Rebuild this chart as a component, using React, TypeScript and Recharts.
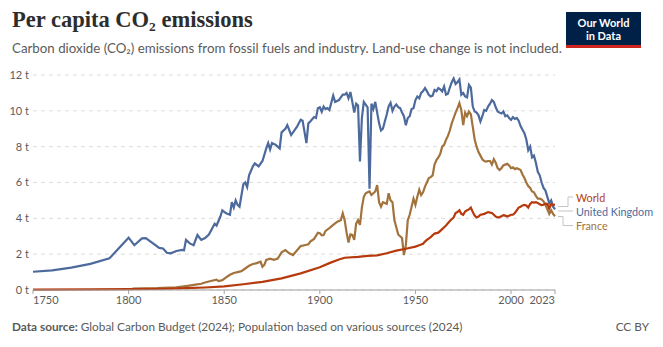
import { LineChart, Line, XAxis, YAxis, CartesianGrid } from "recharts";

const YEAR_TICKS = [1750, 1800, 1850, 1900, 1950, 2000, 2023];
const VALUE_TICKS = [0, 2, 4, 6, 8, 10, 12];

// [year, tonnes per person]
const UK: [number, number][] = [
  [1750, 1.02], [1760, 1.1], [1770, 1.25], [1780, 1.46], [1790, 1.77], [1800, 2.92], [1803, 2.5],
  [1807, 2.88], [1809, 2.9], [1816, 2.35], [1818, 2.32], [1820, 2.08], [1822, 2.05], [1825, 2.18],
  [1828, 2.24], [1829, 2.22], [1830, 2.8], [1832, 2.6], [1834, 2.5], [1836, 3.07], [1838, 2.8],
  [1840, 2.9], [1842, 3.1], [1845, 3.7], [1846, 3.6], [1848, 4.1], [1849, 4.45], [1851, 4.28],
  [1853, 4.2], [1854, 4.9], [1855, 4.6], [1856, 5.0], [1857, 4.75], [1858, 4.65], [1860, 5.9],
  [1861, 6.0], [1862, 5.75], [1863, 6.4], [1865, 6.9], [1866, 7.07], [1868, 6.9], [1870, 7.2],
  [1872, 7.9], [1873, 8.2], [1874, 7.85], [1875, 8.2], [1877, 8.1], [1879, 7.9], [1880, 8.8],
  [1882, 9.0], [1883, 9.2], [1885, 8.65], [1888, 9.1], [1890, 9.5], [1891, 9.45], [1893, 8.2],
  [1894, 9.3], [1895, 9.4], [1897, 9.65], [1898, 9.6], [1899, 10.15], [1900, 10.2], [1901, 9.95],
  [1902, 10.24], [1903, 10.1], [1904, 10.15], [1905, 10.05], [1907, 10.85], [1908, 10.5],
  [1910, 10.6], [1912, 10.9], [1913, 10.9], [1914, 11.0], [1915, 10.7], [1916, 11.05], [1917, 10.5],
  [1918, 9.9], [1919, 10.4], [1920, 10.3], [1921, 7.17], [1922, 9.6], [1923, 10.5], [1924, 10.35],
  [1925, 10.2], [1926, 5.65], [1927, 10.4], [1928, 10.1], [1929, 10.5], [1930, 9.9], [1931, 9.3],
  [1932, 8.9], [1933, 9.0], [1934, 9.4], [1935, 9.8], [1936, 10.25], [1937, 10.45], [1938, 10.0],
  [1939, 10.24], [1940, 10.35], [1941, 10.2], [1942, 10.15], [1943, 9.9], [1944, 9.7], [1945, 9.2],
  [1946, 9.6], [1947, 9.7], [1948, 10.1], [1949, 10.15], [1950, 10.6], [1951, 10.8], [1952, 10.7],
  [1953, 11.0], [1954, 11.1], [1955, 11.27], [1956, 11.1], [1957, 10.9], [1958, 10.8], [1959, 10.85],
  [1960, 11.17], [1961, 11.1], [1962, 11.27], [1963, 11.2], [1964, 11.08], [1965, 11.36], [1966, 10.9],
  [1967, 10.95], [1968, 11.3], [1969, 11.6], [1970, 11.8], [1971, 11.5], [1972, 11.6], [1973, 11.75],
  [1974, 10.9], [1975, 11.0], [1976, 10.8], [1977, 10.75], [1978, 11.45], [1979, 11.3], [1980, 10.24],
  [1981, 9.96], [1982, 9.9], [1983, 9.75], [1984, 9.4], [1985, 9.7], [1986, 10.05], [1987, 10.0],
  [1988, 10.24], [1989, 10.4], [1990, 10.6], [1991, 10.5], [1992, 10.2], [1993, 9.96], [1994, 9.9],
  [1995, 9.85], [1996, 9.96], [1997, 9.7], [1998, 9.75], [1999, 9.6], [2000, 9.5], [2001, 9.65],
  [2002, 9.55], [2003, 9.6], [2004, 9.45], [2005, 9.15], [2006, 8.95], [2007, 8.75], [2008, 8.4],
  [2009, 7.8], [2010, 8.0], [2011, 7.4], [2012, 7.5], [2013, 7.1], [2014, 6.6], [2015, 6.4],
  [2016, 6.0], [2017, 5.7], [2018, 5.55], [2019, 5.2], [2020, 4.84], [2021, 5.0], [2022, 4.65],
  [2023, 4.5],
];

const FRANCE: [number, number][] = [
  [1802, 0.08], [1815, 0.1], [1825, 0.15], [1830, 0.22], [1835, 0.3], [1838, 0.35], [1840, 0.42],
  [1843, 0.5], [1846, 0.58], [1847, 0.5], [1849, 0.55], [1851, 0.7], [1853, 0.85], [1855, 0.95],
  [1857, 1.0], [1859, 1.05], [1861, 1.2], [1863, 1.35], [1865, 1.45], [1867, 1.5], [1869, 1.58],
  [1870, 1.3], [1871, 1.4], [1872, 1.68], [1874, 1.75], [1876, 1.68], [1878, 1.75], [1880, 2.1],
  [1882, 2.23], [1884, 2.05], [1886, 1.95], [1888, 2.2], [1890, 2.45], [1892, 2.5], [1894, 2.55],
  [1895, 2.7], [1897, 2.85], [1899, 3.2], [1900, 3.17], [1901, 3.05], [1902, 3.07], [1903, 3.3],
  [1905, 3.45], [1907, 3.63], [1909, 3.8], [1910, 3.85], [1911, 3.9], [1912, 4.28], [1913, 3.9],
  [1914, 3.2], [1915, 2.65], [1916, 3.1], [1917, 3.07], [1918, 2.8], [1919, 3.7], [1920, 3.9],
  [1921, 3.63], [1922, 4.6], [1923, 5.2], [1924, 5.4], [1925, 5.45], [1926, 5.5], [1927, 5.3],
  [1928, 5.4], [1929, 5.5], [1930, 5.85], [1931, 4.9], [1932, 4.65], [1933, 4.9], [1934, 4.85],
  [1935, 4.8], [1936, 5.4], [1937, 5.0], [1938, 4.9], [1939, 3.9], [1940, 3.5], [1941, 3.1],
  [1942, 3.0], [1943, 2.9], [1944, 1.95], [1945, 2.5], [1946, 3.9], [1947, 4.2], [1948, 4.65],
  [1949, 5.1], [1950, 4.75], [1951, 5.2], [1952, 5.6], [1953, 5.3], [1954, 5.45], [1955, 5.77],
  [1956, 6.0], [1957, 6.25], [1958, 6.3], [1959, 6.4], [1960, 7.0], [1961, 7.25], [1962, 7.4],
  [1963, 7.6], [1964, 8.0], [1965, 8.1], [1966, 8.38], [1967, 8.6], [1968, 8.9], [1969, 9.3],
  [1970, 9.6], [1971, 9.9], [1972, 10.15], [1973, 10.43], [1974, 10.05], [1975, 9.2], [1976, 9.9],
  [1977, 9.7], [1978, 9.96], [1979, 9.8], [1980, 9.1], [1981, 8.4], [1982, 8.0], [1983, 7.7],
  [1984, 7.5], [1985, 7.3], [1986, 7.2], [1987, 7.17], [1988, 7.2], [1989, 7.2], [1990, 7.0],
  [1991, 7.3], [1992, 7.1], [1993, 6.8], [1994, 6.7], [1995, 6.8], [1996, 6.95], [1997, 7.0],
  [1998, 7.05], [1999, 6.95], [2000, 6.8], [2001, 6.85], [2002, 6.75], [2003, 6.8], [2004, 6.75],
  [2005, 6.7], [2006, 6.45], [2007, 6.25], [2008, 6.0], [2009, 5.8], [2010, 5.7], [2011, 5.5],
  [2012, 5.45], [2013, 5.25], [2014, 5.1], [2015, 5.1], [2016, 5.05], [2017, 4.95], [2018, 4.75],
  [2019, 4.5], [2020, 4.25], [2021, 4.45], [2022, 4.25], [2023, 4.12],
];

const WORLD: [number, number][] = [
  [1750, 0.02], [1780, 0.03], [1800, 0.05], [1820, 0.07], [1830, 0.1], [1840, 0.14], [1850, 0.2],
  [1860, 0.32], [1870, 0.45], [1880, 0.65], [1890, 0.93], [1900, 1.27], [1905, 1.5], [1910, 1.7],
  [1913, 1.8], [1920, 1.85], [1925, 1.9], [1930, 1.93], [1935, 2.05], [1940, 2.2], [1945, 2.3],
  [1950, 2.42], [1952, 2.5], [1954, 2.58], [1955, 2.7], [1956, 2.8], [1958, 2.95], [1960, 3.15],
  [1962, 3.2], [1964, 3.4], [1966, 3.6], [1968, 3.85], [1970, 4.05], [1971, 4.3], [1972, 4.35],
  [1973, 4.45], [1974, 4.25], [1975, 4.2], [1976, 4.38], [1977, 4.45], [1978, 4.5], [1979, 4.6],
  [1980, 4.35], [1981, 4.15], [1982, 4.05], [1983, 4.1], [1984, 4.2], [1985, 4.22], [1986, 4.25],
  [1987, 4.3], [1988, 4.35], [1989, 4.32], [1990, 4.3], [1991, 4.2], [1992, 4.1], [1993, 4.05],
  [1994, 4.07], [1995, 4.12], [1996, 4.18], [1997, 4.15], [1998, 4.1], [1999, 4.15], [2000, 4.2],
  [2001, 4.2], [2002, 4.3], [2003, 4.45], [2004, 4.6], [2005, 4.65], [2006, 4.72], [2007, 4.75],
  [2008, 4.72], [2009, 4.6], [2010, 4.8], [2011, 4.9], [2012, 4.88], [2013, 4.9], [2014, 4.86],
  [2015, 4.78], [2016, 4.74], [2017, 4.76], [2018, 4.82], [2019, 4.8], [2020, 4.55], [2021, 4.78],
  [2022, 4.75], [2023, 4.76],
];

const BLUE = "#4c6a9c";
const BROWN = "#a2733d";
const RED = "#b73a0c";
const GREY = "#5b5b5b";
const FONT = "Lato, 'Noto Sans', sans-serif";

function buildRows() {
  const rows = new Map<number, any>();
  const add = (key: string, pts: [number, number][]) => {
    pts.forEach(([year, v]) => {
      const r = rows.get(year) ?? { year };
      r[key] = v;
      rows.set(year, r);
    });
  };
  add("uk", UK);
  add("france", FRANCE);
  add("world", WORLD);
  return [...rows.values()].sort((a, b) => a.year - b.year);
}

const rows = buildRows();

// first label hangs right of its tick, last one left of it
const YearTick = ({ x, y, payload }: any) => {
  const first = YEAR_TICKS[0];
  const last = YEAR_TICKS[YEAR_TICKS.length - 1];
  const anchor = payload.value === first ? "start" : payload.value === last ? "end" : "middle";
  return (
    <text x={x} y={y} dy="0.71em" textAnchor={anchor} fill={GREY} fontSize={11} fontFamily={FONT}>
      {payload.value}
    </text>
  );
};

export default function App() {
  return (
    <div style={{ position: "absolute", left: 0, top: 0, width: 663, height: 347, background: "#fff", fontFamily: FONT }}>
      <div style={{ position: "absolute", left: 12, top: 7, fontFamily: "'Liberation Serif', serif", fontWeight: 700, fontSize: 22.5, color: "#2d2d2d", whiteSpace: "nowrap" }}>
        Per capita CO₂ emissions
      </div>
      <div style={{ position: "absolute", left: 12, top: 40, fontSize: 13.3, color: GREY, whiteSpace: "nowrap" }}>
        Carbon dioxide (CO₂) emissions from fossil fuels and industry. Land-use change is not included.
      </div>
      <div style={{ position: "absolute", left: 566, top: 12, width: 75, height: 36, background: "#002147", borderBottom: "3px solid #ce261e", boxSizing: "border-box", color: "#fff", fontSize: 11, fontWeight: 700, lineHeight: "13px", textAlign: "center", paddingTop: 4 }}>
        Our World<br />in Data
      </div>

      <div style={{ position: "absolute", left: 0, top: 0 }}>
        <LineChart width={663} height={347} data={rows} margin={{ top: 75, right: 108, bottom: 27, left: 3 }}>
          <CartesianGrid vertical={false} stroke="#dddddd" strokeDasharray="4 4" />
          <XAxis
            dataKey="year"
            type="number"
            domain={[1750, 2023]}
            ticks={YEAR_TICKS}
            interval={0}
            height={30}
            stroke="#a1a1a1"
            tickSize={4}
            tickMargin={2}
            tick={<YearTick />}
          />
          <YAxis
            type="number"
            domain={[0, 12]}
            ticks={VALUE_TICKS}
            width={30}
            axisLine={false}
            tickLine={false}
            tickSize={0}
            tickMargin={4}
            tickFormatter={(v) => `${v} t`}
            tick={{ fill: GREY, fontSize: 11, fontFamily: FONT }}
          />
          <Line dataKey="france" stroke={BROWN} strokeWidth={2.2} dot={false} connectNulls isAnimationActive={false} />
          <Line dataKey="uk" stroke={BLUE} strokeWidth={2.2} dot={false} connectNulls isAnimationActive={false} />
          <Line dataKey="world" stroke={RED} strokeWidth={2.2} dot={false} connectNulls isAnimationActive={false} />
        </LineChart>
      </div>

      <svg width={663} height={347} style={{ position: "absolute", left: 0, top: 0, pointerEvents: "none" }}>
        <g stroke="#c4c4c4" strokeWidth={1} fill="none">
          <polyline points="558,206.5 568,206.5 568,197 573,197" />
          <polyline points="558,211 573,211" />
          <polyline points="558,216.5 563,216.5 563,225.5 573,225.5" />
        </g>
        <g fontFamily={FONT} fontSize={10.8} dominantBaseline="central">
          <text x={576} y={197} fill={RED}>World</text>
          <text x={576} y={211} fill={BLUE}>United Kingdom</text>
          <text x={576} y={225.5} fill={BROWN}>France</text>
        </g>
      </svg>

      <div style={{ position: "absolute", left: 12, top: 319, fontSize: 11.8, color: GREY, whiteSpace: "nowrap" }}>
        <b>Data source:</b> Global Carbon Budget (2024); Population based on various sources (2024)
      </div>
      <div style={{ position: "absolute", right: 14, top: 319, fontSize: 11.8, color: GREY }}>CC BY</div>
    </div>
  );
}
